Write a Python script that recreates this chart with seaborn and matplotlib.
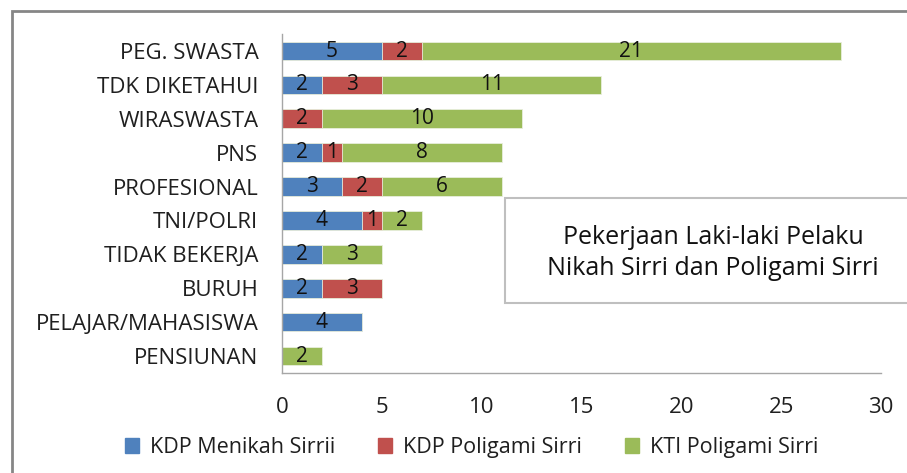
import numpy as np
import pandas as pd
import seaborn as sns
import matplotlib.pyplot as plt
from matplotlib.patches import Rectangle

# data
jobs = ['PEG. SWASTA', 'TDK DIKETAHUI', 'WIRASWASTA', 'PNS', 'PROFESIONAL',
        'TNI/POLRI', 'TIDAK BEKERJA', 'BURUH', 'PELAJAR/MAHASISWA', 'PENSIUNAN']
kdp_menikah = [5, 2, 0, 2, 3, 4, 2, 2, 4, 0]
kdp_poligami = [2, 3, 2, 1, 2, 1, 0, 3, 0, 0]
kti_poligami = [21, 11, 10, 8, 6, 2, 3, 0, 0, 2]
series_names = ['KDP Menikah Sirrii', 'KDP Poligami Sirri', 'KTI Poligami Sirri']
colors = ['#4F81BD', '#C0504D', '#9BBB59']

sns.set_style('white')
plt.rcParams['font.family'] = ['Open Sans', 'DejaVu Sans']

df = pd.DataFrame({'job': jobs, 'a': kdp_menikah, 'b': kdp_poligami, 'c': kti_poligami})
df['ab'] = df['a'] + df['b']
df['abc'] = df['ab'] + df['c']

fig = plt.figure(figsize=(9.07, 4.73), dpi=100)
ax = fig.add_axes([0.3109, 0.2114, 0.6604, 0.7166])

# stacked bars by layering cumulative totals
for col, c in [('abc', colors[2]), ('ab', colors[1]), ('a', colors[0])]:
    sns.barplot(data=df, x=col, y='job', orient='h', color=c, width=0.55,
                edgecolor='#e8eedd', linewidth=0.6, ax=ax, saturation=1)

# segment labels
for i, row in df.iterrows():
    starts = [0, row['a'], row['ab']]
    vals = [row['a'], row['b'], row['c']]
    for s, v in zip(starts, vals):
        if v > 0:
            ax.text(s + v / 2, i, str(v), ha='center', va='center',
                    fontsize=15, color='#111111')

ax.set_xlim(0, 30)
ax.set_ylim(9.5, -0.5)
ax.set_xticks(range(0, 31, 5))
ax.set_xlabel('')
ax.set_ylabel('')
ax.tick_params(axis='both', length=0, labelsize=16, colors='#1f1f1f')
ax.tick_params(axis='x', pad=17)
ax.tick_params(axis='y', pad=17)
for side in ['top', 'right']:
    ax.spines[side].set_visible(False)
for side in ['left', 'bottom']:
    ax.spines[side].set_color('#A6A6A6')
    ax.spines[side].set_linewidth(1.0)

handles = [Rectangle((0, 0), 1, 1, color=c) for c in colors]
fig.legend(handles, series_names, loc='center', bbox_to_anchor=(0.52, 0.054),
           ncol=3, frameon=False, fontsize=15.5, handlelength=0.65, handleheight=0.65,
           handletextpad=0.5, columnspacing=2.0, labelcolor='#1f1f1f')

# outer chart frame
fig.patches.append(Rectangle((12 / 907, -0.1), 1.2, 1 - 11 / 473 + 0.1,
                             transform=fig.transFigure, fill=False,
                             edgecolor='#868686', linewidth=2))
# title box
fig.patches.append(Rectangle((505 / 907, 1 - 303 / 473), 0.5, 105 / 473,
                             transform=fig.transFigure, facecolor='white',
                             edgecolor='#BFBFBF', linewidth=1.5, zorder=5))
fig.text(713 / 907, 1 - 253 / 473, 'Pekerjaan Laki-laki Pelaku\nNikah Sirri dan Poligami Sirri',
         ha='center', va='center', fontsize=18, linespacing=1.35, color='#111111', zorder=6)

fig.savefig('out.png', dpi=100)
